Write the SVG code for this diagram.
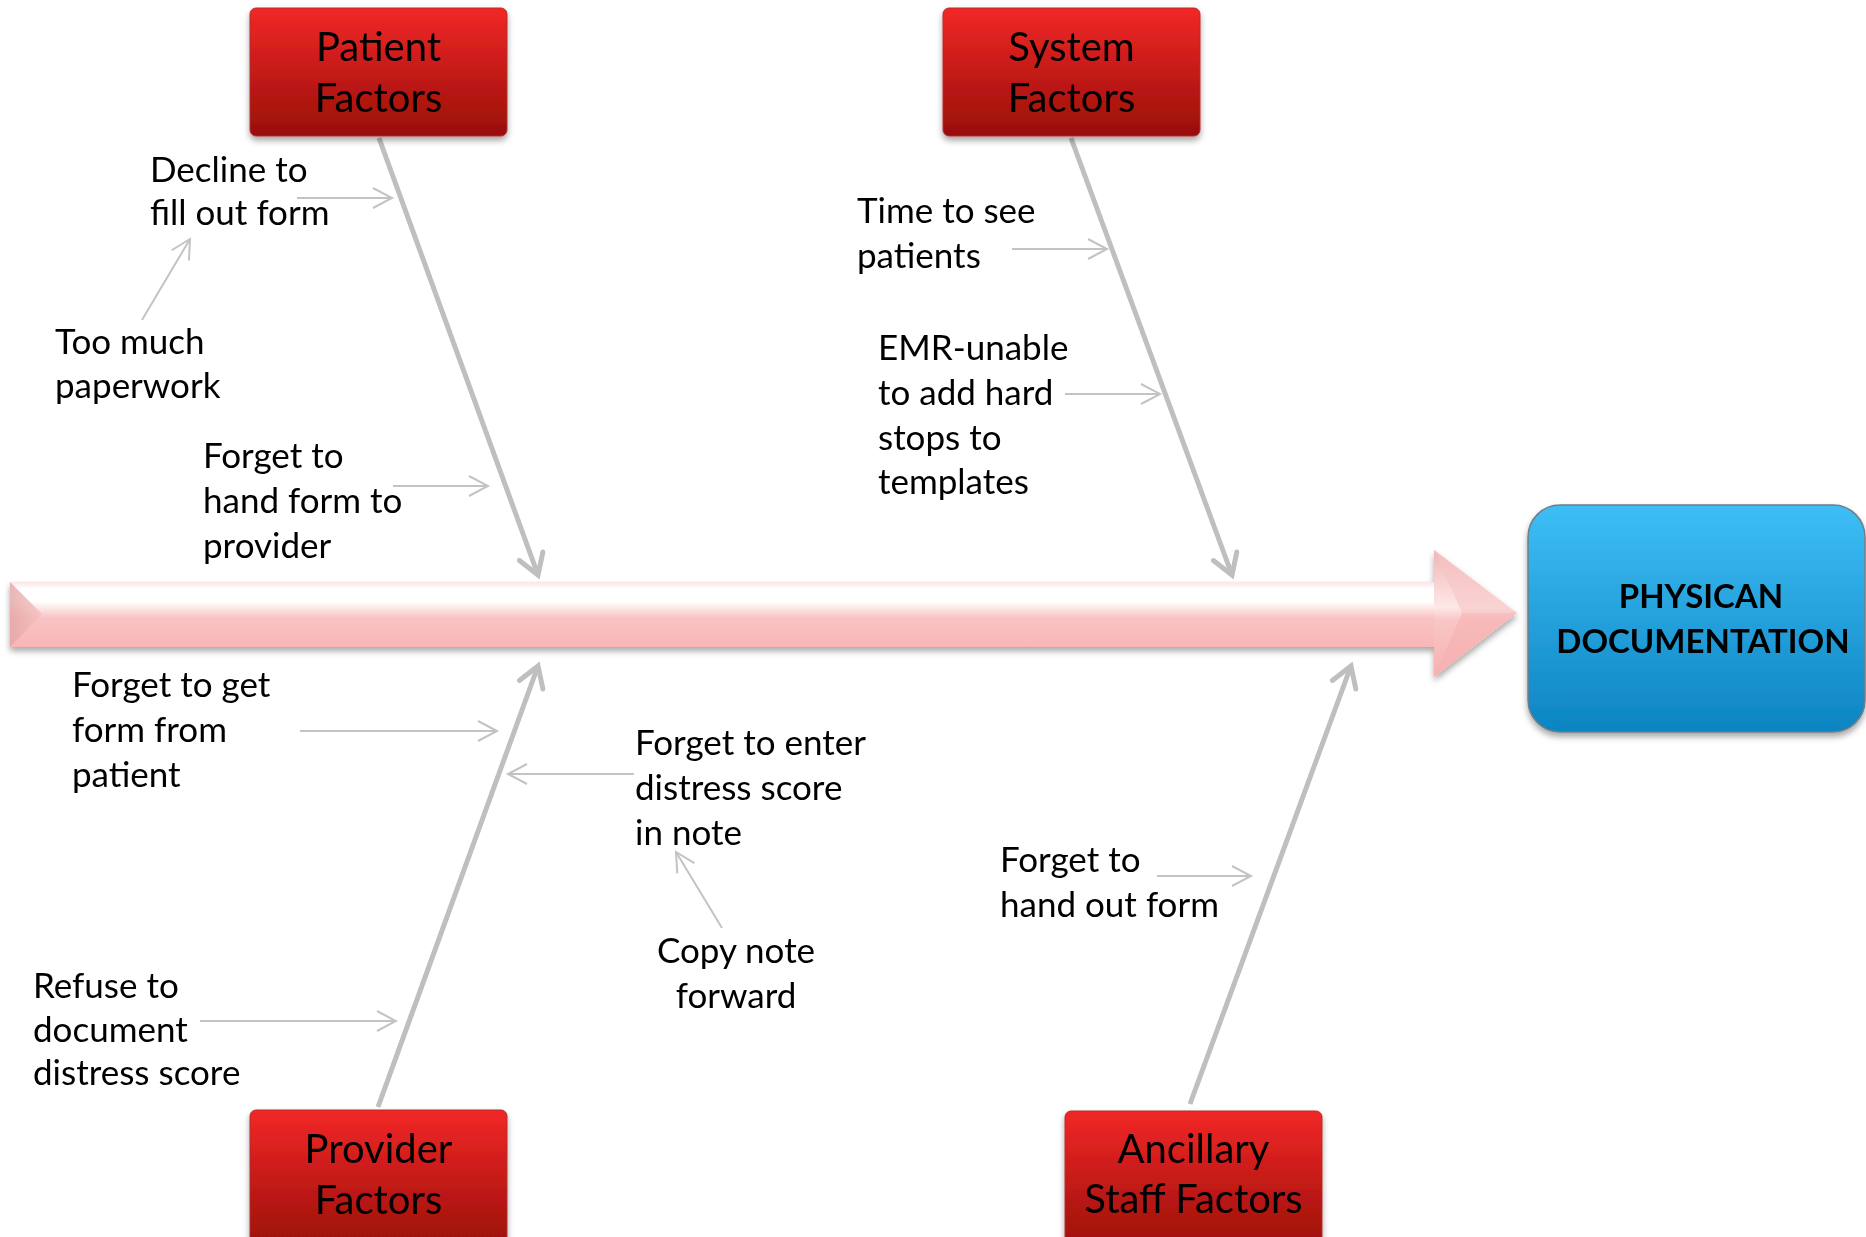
<svg xmlns="http://www.w3.org/2000/svg" width="1866" height="1237" viewBox="0 0 1866 1237">
  <defs>
    <linearGradient id="redGrad" x1="0" y1="0" x2="0" y2="1">
      <stop offset="0" stop-color="#f22727"/>
      <stop offset="1" stop-color="#980f08"/>
    </linearGradient>
    <linearGradient id="blueGrad" x1="0" y1="0" x2="0" y2="1">
      <stop offset="0" stop-color="#3ebef6"/>
      <stop offset="1" stop-color="#0c84c2"/>
    </linearGradient>
    <linearGradient id="bodyGrad" x1="0" y1="0" x2="0" y2="1">
      <stop offset="0" stop-color="#fde4e4"/>
      <stop offset="0.1" stop-color="#ffffff"/>
      <stop offset="0.3" stop-color="#ffffff"/>
      <stop offset="0.55" stop-color="#f9c3c3"/>
      <stop offset="1" stop-color="#f8b6b6"/>
    </linearGradient>
    <linearGradient id="headGrad" x1="0" y1="0" x2="0" y2="1">
      <stop offset="0" stop-color="#f2b4b4"/>
      <stop offset="0.45" stop-color="#fde8e8"/>
      <stop offset="0.55" stop-color="#f9c6c6"/>
      <stop offset="1" stop-color="#f7b0b0"/>
    </linearGradient>
    <linearGradient id="bevelGrad" x1="0" y1="0" x2="1" y2="0">
      <stop offset="0" stop-color="#e3a4a4"/>
      <stop offset="1" stop-color="#f5c0c0"/>
    </linearGradient>
    <filter id="shadow" x="-10%" y="-10%" width="120%" height="130%">
      <feDropShadow dx="0" dy="4" stdDeviation="3" flood-color="#000" flood-opacity="0.35"/>
    </filter>
    <marker id="thickHead" markerUnits="userSpaceOnUse" viewBox="0 0 30 30" markerWidth="30" markerHeight="30" refX="25" refY="15" orient="auto">
      <path d="M5,2.5 L25,15 L5,27.5" fill="none" stroke="#bfbfbf" stroke-width="5" stroke-linejoin="miter" stroke-linecap="round"/>
    </marker>
    <marker id="thinHead" markerUnits="userSpaceOnUse" viewBox="0 0 24 24" markerWidth="24" markerHeight="24" refX="21" refY="12" orient="auto">
      <path d="M2,2 L21,12 L2,22" fill="none" stroke="#c3c3c3" stroke-width="2"/>
    </marker>
  </defs>
  <style>
    .box { fill: url(#redGrad); stroke: #b0302a; stroke-width: 1; filter: url(#shadow); }
    .title { font-family: Lato, "Liberation Sans", sans-serif; font-size: 40px; fill: #000; text-anchor: middle; }
    .label { font-family: Lato, "Liberation Sans", sans-serif; font-size: 35px; fill: #000; }
    .effect { font-family: Lato, "Liberation Sans", sans-serif; font-size: 33px; font-weight: bold; fill: #000; text-anchor: middle; }
    .spine { stroke: #bfbfbf; stroke-width: 5; fill: none; marker-end: url(#thickHead); }
    .cause { stroke: #c3c3c3; stroke-width: 2; fill: none; marker-end: url(#thinHead); }
  </style>
  <rect width="1866" height="1237" fill="#ffffff"/>

  <g id="main-arrow" filter="url(#shadow)">
    <rect x="10" y="582" width="1426" height="65" fill="url(#bodyGrad)"/>
    <polygon points="10,582 42,614 10,647" fill="url(#bevelGrad)" opacity="0.8"/>
    <polygon points="1434,550 1517,613 1434,677" fill="url(#headGrad)"/>
    <polygon points="1434,550 1517,613 1462,613" fill="#f6c4c4" opacity="0.6"/>
    <polygon points="1434,677 1517,613 1462,613" fill="#f6b0b0" opacity="0.6"/>
  </g>

  <g id="connectors">
    <line class="spine" x1="379" y1="138" x2="538" y2="575"/>
    <line class="spine" x1="1071" y1="138" x2="1232" y2="575"/>
    <line class="spine" x1="378" y1="1107" x2="538" y2="666"/>
    <line class="spine" x1="1190" y1="1104" x2="1351" y2="666"/>

    <line class="cause" x1="297" y1="198" x2="392" y2="198"/>
    <line class="cause" x1="142" y1="320" x2="190" y2="239"/>
    <line class="cause" x1="393" y1="486" x2="488" y2="486"/>
    <line class="cause" x1="1012" y1="249" x2="1107" y2="249"/>
    <line class="cause" x1="1065" y1="394" x2="1160" y2="394"/>
    <line class="cause" x1="300" y1="731" x2="497" y2="731"/>
    <line class="cause" x1="634" y1="774" x2="508" y2="774"/>
    <line class="cause" x1="722" y1="928" x2="676" y2="852"/>
    <line class="cause" x1="1157" y1="876" x2="1251" y2="876"/>
    <line class="cause" x1="200" y1="1021" x2="396" y2="1021"/>
  </g>

  <g id="patient-factors">
    <rect class="box" x="250" y="8" width="257" height="128" rx="6"/>
    <text class="title" x="378.5" y="61">Patient</text>
    <text class="title" x="378.5" y="112">Factors</text>
  </g>
  <g id="system-factors">
    <rect class="box" x="943" y="8" width="257" height="128" rx="6"/>
    <text class="title" x="1071.5" y="61">System</text>
    <text class="title" x="1071.5" y="112">Factors</text>
  </g>
  <g id="provider-factors">
    <rect class="box" x="250" y="1110" width="257" height="140" rx="6"/>
    <text class="title" x="378.5" y="1163">Provider</text>
    <text class="title" x="378.5" y="1214">Factors</text>
  </g>
  <g id="ancillary-staff-factors">
    <rect class="box" x="1065" y="1111" width="257" height="140" rx="6"/>
    <text class="title" x="1193.5" y="1163">Ancillary</text>
    <text class="title" x="1193.5" y="1213">Staff Factors</text>
  </g>
  <g id="physican-documentation">
    <rect x="1528" y="505" width="337" height="227" rx="32" fill="url(#blueGrad)" stroke="#6f7f88" stroke-width="1.5" filter="url(#shadow)"/>
    <text class="effect" x="1701" y="608">PHYSICAN</text>
    <text class="effect" x="1703" y="653">DOCUMENTATION</text>
  </g>

  <g id="cause-labels">
    <g id="decline">
      <text class="label" x="150" y="182">Decline to</text>
      <text class="label" x="150" y="225">fill out form</text>
    </g>
    <g id="too-much">
      <text class="label" x="55" y="354">Too much</text>
      <text class="label" x="55" y="398">paperwork</text>
    </g>
    <g id="forget-hand-form">
      <text class="label" x="203" y="468">Forget to</text>
      <text class="label" x="203" y="513">hand form to</text>
      <text class="label" x="203" y="558">provider</text>
    </g>
    <g id="time-to-see">
      <text class="label" x="857" y="223">Time to see</text>
      <text class="label" x="857" y="268">patients</text>
    </g>
    <g id="emr">
      <text class="label" x="878" y="360">EMR-unable</text>
      <text class="label" x="878" y="405">to add hard</text>
      <text class="label" x="878" y="450">stops to</text>
      <text class="label" x="878" y="494">templates</text>
    </g>
    <g id="forget-get-form">
      <text class="label" x="72" y="697">Forget to get</text>
      <text class="label" x="72" y="742">form from</text>
      <text class="label" x="72" y="787">patient</text>
    </g>
    <g id="forget-enter">
      <text class="label" x="635" y="755">Forget to enter</text>
      <text class="label" x="635" y="800">distress score</text>
      <text class="label" x="635" y="845">in note</text>
    </g>
    <g id="copy-note">
      <text class="label" x="736" y="963" text-anchor="middle">Copy note</text>
      <text class="label" x="736" y="1008" text-anchor="middle">forward</text>
    </g>
    <g id="forget-hand-out">
      <text class="label" x="1000" y="872">Forget to</text>
      <text class="label" x="1000" y="917">hand out form</text>
    </g>
    <g id="refuse">
      <text class="label" x="33" y="998">Refuse to</text>
      <text class="label" x="33" y="1042">document</text>
      <text class="label" x="33" y="1085">distress score</text>
    </g>
  </g>
</svg>
